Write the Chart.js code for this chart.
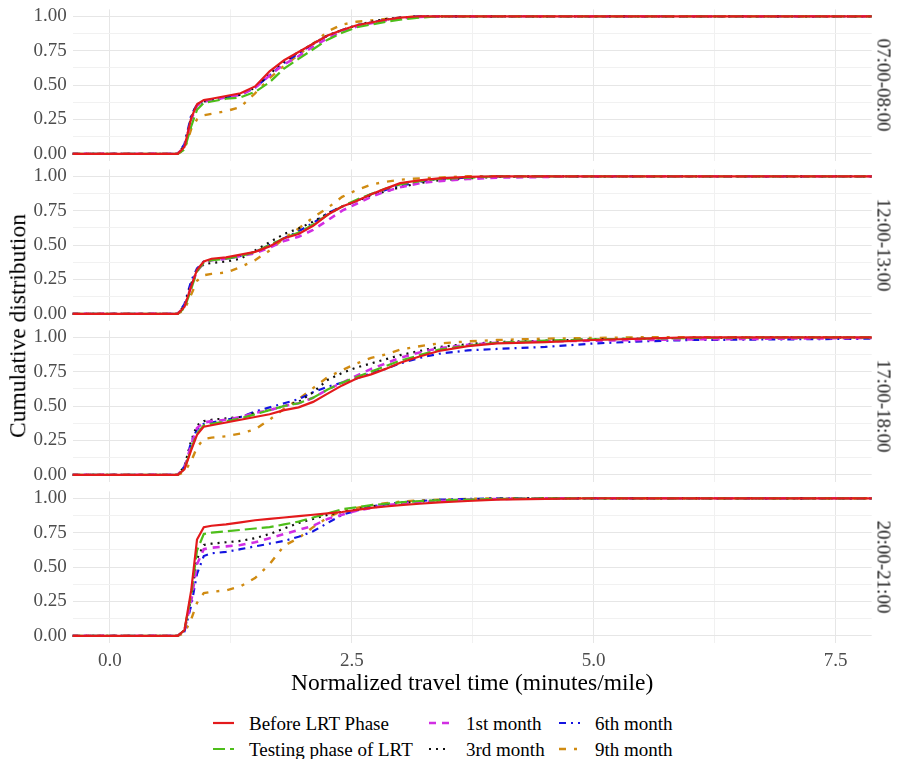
<!DOCTYPE html>
<html><head><meta charset="utf-8">
<script src="https://cdn.jsdelivr.net/npm/chart.js@4.4.1/dist/chart.umd.min.js"></script>
<style>
html,body{margin:0;padding:0;background:#fff;}
#wrap{position:relative;width:897px;height:759px;overflow:hidden;font-family:'Liberation Serif','Times New Roman',serif;}
.txt{position:absolute;white-space:nowrap;line-height:1;}
</style></head><body><div id="wrap"></div>
<script>
// ---------------- data ----------------
const seriesNames = ['Before LRT Phase','Testing phase of LRT','1st month','3rd month','6th month','9th month'];
const panelLabels = ['07:00-08:00','12:00-13:00','17:00-18:00','20:00-21:00'];
const xTicks = [0, 1.25, 2.5, 3.75, 5, 6.25, 7.5];
const yTicks = [0, 0.125, 0.25, 0.375, 0.5, 0.625, 0.75, 0.875, 1];
const xs = [-0.4, 0.7, 0.77, 0.84, 0.9, 0.97, 1.05, 1.2, 1.35, 1.5, 1.65, 1.8, 1.95, 2.1, 2.25, 2.4, 2.55, 2.7, 2.85, 3.0, 3.2, 3.4, 3.7, 4.0, 4.5, 5.0, 5.5, 6.0, 7.0, 7.9];

// 07:00-08:00
const p1Before  = [0,0,0.05,0.26,0.36,0.39,0.40,0.42,0.44,0.49,0.60,0.68,0.74,0.80,0.86,0.90,0.935,0.955,0.975,0.99,1,1,1,1,1,1,1,1,1,1];
const p1Testing = [0,0,0.03,0.20,0.32,0.37,0.38,0.40,0.41,0.45,0.52,0.62,0.69,0.76,0.83,0.88,0.92,0.94,0.96,0.975,0.99,1,1,1,1,1,1,1,1,1];
const p1M1      = [0,0,0.05,0.25,0.35,0.38,0.39,0.41,0.43,0.48,0.57,0.65,0.71,0.78,0.84,0.89,0.925,0.95,0.97,0.985,0.995,1,1,1,1,1,1,1,1,1];
const p1M3      = [0,0,0.06,0.27,0.36,0.38,0.39,0.41,0.43,0.48,0.58,0.67,0.74,0.80,0.86,0.90,0.935,0.96,0.98,0.99,1,1,1,1,1,1,1,1,1,1];
const p1M6      = [0,0,0.07,0.28,0.36,0.38,0.39,0.41,0.43,0.48,0.57,0.66,0.73,0.80,0.86,0.90,0.935,0.955,0.975,0.99,1,1,1,1,1,1,1,1,1,1];
const p1M9      = [0,0,0.03,0.18,0.25,0.28,0.29,0.31,0.34,0.44,0.55,0.64,0.72,0.80,0.89,0.94,0.96,0.97,0.98,0.99,1,1,1,1,1,1,1,1,1,1];
// 12:00-13:00
const p2Before  = [0,0,0.05,0.20,0.32,0.38,0.40,0.41,0.43,0.45,0.49,0.55,0.58,0.64,0.72,0.78,0.82,0.87,0.91,0.95,0.97,0.985,0.995,1,1,1,1,1,1,1];
const p2Testing = [0,0,0.04,0.18,0.31,0.37,0.39,0.40,0.42,0.45,0.50,0.55,0.59,0.65,0.72,0.78,0.83,0.87,0.91,0.94,0.965,0.98,0.99,1,1,1,1,1,1,1];
const p2M1      = [0,0,0.05,0.20,0.31,0.37,0.39,0.40,0.42,0.44,0.48,0.53,0.56,0.61,0.68,0.75,0.80,0.85,0.89,0.92,0.95,0.965,0.98,0.99,0.995,1,1,1,1,1];
const p2M3      = [0,0,0.06,0.22,0.31,0.36,0.37,0.38,0.40,0.46,0.52,0.58,0.62,0.67,0.73,0.78,0.82,0.86,0.89,0.92,0.95,0.97,0.985,0.995,1,1,1,1,1,1];
const p2M6      = [0,0,0.07,0.24,0.33,0.38,0.39,0.40,0.42,0.45,0.50,0.55,0.60,0.66,0.73,0.78,0.82,0.87,0.90,0.93,0.96,0.98,0.99,1,1,1,1,1,1,1];
const p2M9      = [0,0,0.03,0.14,0.24,0.28,0.29,0.30,0.34,0.39,0.46,0.55,0.62,0.70,0.77,0.85,0.90,0.94,0.96,0.975,0.985,0.99,1,1,1,1,1,1,1,1];
// 17:00-18:00
const p3Before  = [0,0,0.04,0.18,0.29,0.35,0.36,0.38,0.40,0.42,0.44,0.47,0.49,0.53,0.59,0.65,0.70,0.73,0.77,0.815,0.86,0.90,0.935,0.955,0.965,0.98,0.99,1,1,1];
const p3Testing = [0,0,0.04,0.19,0.30,0.36,0.37,0.39,0.41,0.44,0.47,0.50,0.52,0.56,0.62,0.67,0.71,0.75,0.79,0.83,0.87,0.91,0.94,0.96,0.975,0.985,0.99,0.995,1,1];
const p3M1      = [0,0,0.05,0.22,0.34,0.38,0.39,0.40,0.42,0.45,0.47,0.50,0.52,0.56,0.62,0.67,0.72,0.77,0.81,0.85,0.89,0.92,0.945,0.96,0.97,0.975,0.98,0.985,0.99,0.995];
const p3M3      = [0,0,0.06,0.25,0.36,0.39,0.40,0.41,0.42,0.45,0.47,0.50,0.53,0.60,0.69,0.74,0.78,0.81,0.84,0.87,0.90,0.93,0.95,0.965,0.975,0.985,0.99,0.995,1,1];
const p3M6      = [0,0,0.06,0.24,0.33,0.37,0.38,0.40,0.42,0.46,0.49,0.52,0.55,0.60,0.64,0.67,0.70,0.74,0.77,0.81,0.85,0.88,0.905,0.915,0.93,0.955,0.97,0.98,0.985,0.99];
const p3M9      = [0,0,0.02,0.10,0.20,0.26,0.27,0.28,0.30,0.33,0.40,0.48,0.55,0.63,0.71,0.76,0.81,0.85,0.875,0.91,0.935,0.955,0.97,0.98,0.99,0.995,1,1,1,1];
// 20:00-21:00
const p4Before  = [0,0,0.04,0.33,0.70,0.79,0.80,0.81,0.825,0.84,0.85,0.86,0.87,0.88,0.89,0.90,0.915,0.93,0.94,0.95,0.96,0.97,0.98,0.99,0.995,1,1,1,1,1];
const p4Testing = [0,0,0.04,0.30,0.62,0.74,0.75,0.76,0.77,0.78,0.79,0.81,0.83,0.86,0.89,0.92,0.935,0.95,0.96,0.97,0.98,0.985,0.99,0.995,1,1,1,1,1,1];
const p4M1      = [0,0,0.04,0.25,0.52,0.63,0.64,0.65,0.66,0.68,0.71,0.74,0.77,0.80,0.85,0.88,0.91,0.93,0.95,0.96,0.97,0.98,0.99,0.995,1,1,1,1,1,1];
const p4M3      = [0,0,0.04,0.28,0.56,0.66,0.67,0.68,0.69,0.71,0.74,0.78,0.82,0.85,0.88,0.90,0.92,0.94,0.955,0.965,0.975,0.985,0.99,0.995,1,1,1,1,1,1];
const p4M6      = [0,0,0.03,0.22,0.45,0.58,0.60,0.61,0.63,0.65,0.67,0.69,0.72,0.76,0.82,0.88,0.91,0.94,0.955,0.97,0.98,0.99,0.995,1,1,1,1,1,1,1];
const p4M9      = [0,0,0.02,0.12,0.24,0.31,0.32,0.33,0.36,0.42,0.52,0.655,0.71,0.79,0.86,0.91,0.93,0.95,0.965,0.975,0.985,0.99,0.995,1,1,1,1,1,1,1];

const panelData = [
  [p1Before, p1Testing, p1M1, p1M3, p1M6, p1M9],
  [p2Before, p2Testing, p2M1, p2M3, p2M6, p2M9],
  [p3Before, p3Testing, p3M1, p3M3, p3M6, p3M9],
  [p4Before, p4Testing, p4M1, p4M3, p4M6, p4M9]
];

// ---------------- styles ----------------
const seriesStyle = [
  {color:'#E31A1C', dash:[],          width:2.2},
  {color:'#4DBE1A', dash:[12,5],      width:2.2},
  {color:'#D12EE3', dash:[7,6],       width:2.6},
  {color:'#111111', dash:[2,5],       width:2.2},
  {color:'#1414E0', dash:[7,5,2,5],   width:2.2},
  {color:'#D08B12', dash:[7,8,3,8],   width:2.4}
];
const FONT = "'Liberation Serif','Times New Roman',serif";
const W = 897, X_MIN = -0.385, X_MAX = 7.874, PLOT_LEFT = 72.7, PLOT_RIGHT = 871.7;
const panelTops = [9.1, 169.8, 330.5, 491.2];
const PH = 151.25;
const wrap = document.getElementById('wrap');

const isMajorX = v => Math.abs(v/2.5 - Math.round(v/2.5)) < 1e-9;
const isMajorY = v => Math.abs(v*4 - Math.round(v*4)) < 1e-9;

panelLabels.forEach((lab, p) => {
  const isLast = p === panelLabels.length - 1;
  const cH = isLast ? 230 : 200;
  const xH = isLast ? 30 : 0;
  const canvas = document.createElement('canvas');
  canvas.width = W; canvas.height = cH;
  canvas.style.position = 'absolute'; canvas.style.left = '0px'; canvas.style.top = '0px';
  canvas.style.width = W + 'px'; canvas.style.height = cH + 'px';
  wrap.appendChild(canvas);
  const chart = new Chart(canvas, {
    type: 'line',
    data: {
      datasets: seriesNames.map((name, i) => ({
        label: name,
        data: xs.map((x, k) => ({x: x, y: panelData[p][i][k]})),
        borderColor: seriesStyle[i].color,
        borderDash: seriesStyle[i].dash,
        borderWidth: seriesStyle[i].width,
        pointRadius: 0, tension: 0, fill: false, clip: 0
      }))
    },
    options: {
      responsive: false, animation: false, devicePixelRatio: 1,
      layout: {padding: {left: 0, right: W - PLOT_RIGHT, top: 0, bottom: cH - 16 - PH - xH}},
      plugins: {legend: {display: false}, tooltip: {enabled: false}},
      scales: {
        x: {
          type: 'linear', min: X_MIN, max: X_MAX,
          afterBuildTicks: s => { s.ticks = xTicks.map(v => ({value: v})); },
          afterFit: s => { s.height = xH; },
          border: {display: false},
          grid: {drawTicks: false, color: c => isMajorX(c.tick.value) ? '#E6E6E6' : '#F1F1F1', lineWidth: 1},
          ticks: {display: isLast, autoSkip: false, maxRotation: 0, padding: 7, color: '#4D4D4D',
                  font: {family: FONT, size: 19},
                  callback: v => isMajorX(v) ? v.toFixed(1) : ''}
        },
        y: {
          type: 'linear', min: -0.05, max: 1.05,
          afterBuildTicks: s => { s.ticks = yTicks.map(v => ({value: v})); },
          afterFit: s => { s.width = PLOT_LEFT; },
          border: {display: false},
          grid: {drawTicks: false, color: c => isMajorY(c.tick.value) ? '#E6E6E6' : '#F1F1F1', lineWidth: 1},
          ticks: {autoSkip: false, padding: 6, color: '#4D4D4D', font: {family: FONT, size: 19},
                  callback: v => isMajorY(v) ? v.toFixed(2) : ''}
        }
      }
    }
  });
  // make the plotting area exactly PH tall, then place the canvas so the panel sits at its top
  for (let it = 0; it < 5; it++) {
    const ca = chart.chartArea;
    const diff = (ca.bottom - ca.top) - PH;
    if (Math.abs(diff) < 0.02) break;
    chart.options.layout.padding.bottom += diff;
    chart.update();
  }
  canvas.style.top = (panelTops[p] - chart.chartArea.top) + 'px';

  // facet strip label
  const d = document.createElement('div');
  d.className = 'txt';
  d.textContent = lab;
  d.style.cssText += 'left:883.5px;top:' + (panelTops[p] + PH/2) + 'px;font-size:19px;color:#1A1A1A;transform:translate(-50%,-50%) rotate(90deg);';
  wrap.appendChild(d);
});

// axis titles
const xt = document.createElement('div');
xt.className = 'txt'; xt.textContent = 'Normalized travel time (minutes/mile)';
xt.style.cssText += 'left:' + ((PLOT_LEFT + PLOT_RIGHT)/2) + 'px;top:683px;font-size:23.5px;color:#000;transform:translate(-50%,-50%);';
wrap.appendChild(xt);
const yt = document.createElement('div');
yt.className = 'txt'; yt.textContent = 'Cumulative distribution';
yt.style.cssText += 'left:18px;top:' + ((panelTops[0] + panelTops[3] + PH)/2) + 'px;font-size:23.5px;color:#000;transform:translate(-50%,-50%) rotate(-90deg);';
wrap.appendChild(yt);

// legend (2 rows, filled by column)
const legSwatchX = [213, 429, 559];
const legTextX = [249, 466, 595];
const legRowY = [722.5, 749.3];
seriesNames.forEach((name, i) => {
  const col = Math.floor(i/2), row = i % 2;
  const st = seriesStyle[i];
  const svgNS = 'http://www.w3.org/2000/svg';
  const svg = document.createElementNS(svgNS, 'svg');
  svg.setAttribute('width', '22'); svg.setAttribute('height', '8');
  svg.style.position = 'absolute'; svg.style.left = legSwatchX[col] + 'px'; svg.style.top = (legRowY[row] - 4) + 'px';
  const ln = document.createElementNS(svgNS, 'line');
  ln.setAttribute('x1', '0'); ln.setAttribute('x2', '21'); ln.setAttribute('y1', '4'); ln.setAttribute('y2', '4');
  ln.setAttribute('stroke', st.color); ln.setAttribute('stroke-width', st.width);
  if (st.dash.length) ln.setAttribute('stroke-dasharray', st.dash.join(' '));
  svg.appendChild(ln); wrap.appendChild(svg);
  const t = document.createElement('div');
  t.className = 'txt'; t.textContent = name;
  t.style.cssText += 'left:' + legTextX[col] + 'px;top:' + legRowY[row] + 'px;font-size:19px;color:#000;transform:translateY(-50%);';
  wrap.appendChild(t);
});
</script>
</body></html>
